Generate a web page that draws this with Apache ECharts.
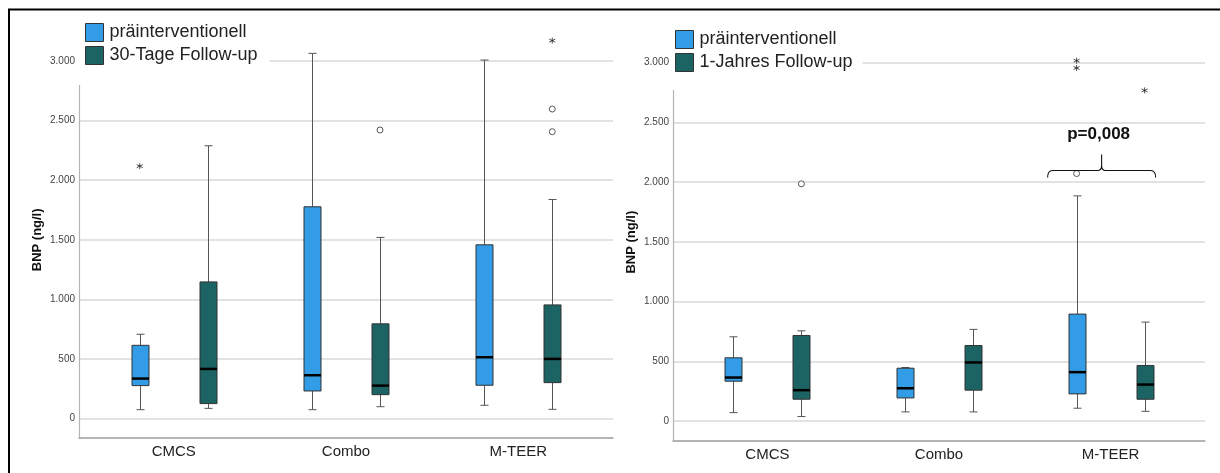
<!DOCTYPE html>
<html>
<head>
<meta charset="utf-8">
<script src="https://cdn.jsdelivr.net/npm/echarts@6/dist/echarts.min.js"></script>
<style>
  html, body { margin: 0; padding: 0; background: #fff; }
  #chart { width: 1220px; height: 473px; }
</style>
</head>
<body>
<div id="chart"></div>
<script>
// Groups on the x axis
const categories = ['CMCS', 'Combo', 'M-TEER'];
const preName = 'präinterventionell';
const day30Name = '30-Tage Follow-up';
const year1Name = '1-Jahres Follow-up';
const yAxisTitle = 'BNP (ng/l)';
const yTickLabels = ['0', '500', '1.000', '1.500', '2.000', '2.500', '3.000'];
const yTickStep = 500;

// Five-number summaries per group: [min, Q1, median, Q3, max] in ng/l
// Left panel: baseline vs 30-day follow-up
const preLeft = [[75, 277, 336, 615, 708], [75, 232, 364, 1777, 3064], [112, 280, 515, 1458, 3008]];
const day30 = [[86, 126, 417, 1147, 2289], [100, 201, 277, 795, 1520], [78, 302, 501, 954, 1838]];
// Right panel: baseline vs 1-year follow-up
const preRight = [[70, 333, 364, 529, 705], [76, 193, 274, 442, 448], [107, 227, 409, 895, 1885]];
const year1 = [[37, 182, 258, 716, 755], [76, 258, 490, 632, 767], [81, 182, 305, 465, 828]];

// Outliers (circles) and extreme values (asterisks): [group index, value]
const preLeftOutliers = [];
const preLeftExtremes = [[0, 2118]];
const day30Outliers = [[1, 2421], [2, 2597], [2, 2407]];
const day30Extremes = [[2, 3171]];
const preRightOutliers = [[2, 2072]];
const preRightExtremes = [[2, 3017], [2, 2956]];
const year1Outliers = [[0, 1986]];
const year1Extremes = [[2, 2768]];

// Significance annotation for M-TEER, 1-year panel
const pValueText = 'p=0,008';
const pValueGroup = 2;
const pBraceLevel = 2100;
const pTextLevel = 2400;

const BLUE = '#339ce6';
const TEAL = '#1c6363';
const FONT = 'Liberation Sans, Arial, sans-serif';
const BOX_W = 17;
const CAP_W = 8;
const SHIFT = 34;   // pixel offset of each box from its group centre
const ASTERISK = 'path://M5 0V10M0.67 2.5L9.33 7.5M0.67 7.5L9.33 2.5';

function boxRenderer(shift) {
  return function (params, api) {
    const pts = [1, 2, 3, 4, 5].map(d => api.coord([api.value(0), api.value(d)]));
    const cx = Math.round(pts[0][0] + shift) + 0.5;
    const yMin = pts[0][1], yQ1 = pts[1][1], yMed = pts[2][1], yQ3 = pts[3][1], yMax = pts[4][1];
    const fill = api.visual('color');
    const whisker = { stroke: '#555', lineWidth: 1 };
    return {
      type: 'group',
      children: [
        { type: 'line', shape: { x1: cx, y1: yMax, x2: cx, y2: yQ3 }, style: whisker },
        { type: 'line', shape: { x1: cx, y1: yQ1, x2: cx, y2: yMin }, style: whisker },
        { type: 'line', shape: { x1: cx - CAP_W / 2, y1: yMax, x2: cx + CAP_W / 2, y2: yMax }, style: whisker },
        { type: 'line', shape: { x1: cx - CAP_W / 2, y1: yMin, x2: cx + CAP_W / 2, y2: yMin }, style: whisker },
        { type: 'rect', shape: { x: cx - BOX_W / 2, y: yQ3, width: BOX_W, height: yQ1 - yQ3 },
          style: { fill: fill, stroke: '#333', lineWidth: 1 } },
        { type: 'line', shape: { x1: cx - BOX_W / 2, y1: yMed, x2: cx + BOX_W / 2, y2: yMed },
          style: { stroke: '#000', lineWidth: 2.5 } }
      ]
    };
  };
}

function boxSeries(name, rows, color, shift, axis) {
  return {
    type: 'custom', name: name, xAxisIndex: axis, yAxisIndex: axis,
    itemStyle: { color: color },
    encode: { x: 0, y: [1, 2, 3, 4, 5] },
    data: rows.map((r, i) => [i].concat(r)),
    renderItem: boxRenderer(shift),
    silent: true, z: 3
  };
}

function pointSeries(points, shift, axis, extreme) {
  return {
    type: 'scatter', name: extreme ? 'extreme' : 'outlier', xAxisIndex: axis, yAxisIndex: axis,
    data: points, clip: false, silent: true, z: 4,
    symbol: extreme ? ASTERISK : 'circle',
    symbolSize: extreme ? 6 : 6,
    symbolOffset: [shift, 0],
    itemStyle: extreme
      ? { color: 'transparent', borderColor: '#222', borderWidth: 1 }
      : { color: '#fff', borderColor: '#333', borderWidth: 1 }
  };
}

function xAxisFor(grid) {
  return {
    type: 'value', gridIndex: grid, min: -0.55, max: 2.55,
    minInterval: 1, maxInterval: 1,
    splitLine: { show: false }, axisTick: { show: false },
    axisLine: { onZero: false, lineStyle: { color: '#a5a5a5', width: 1.5 } },
    axisLabel: {
      margin: 7, fontSize: 15, color: '#222', fontFamily: FONT,
      showMinLabel: false, showMaxLabel: false,
      formatter: v => (Number.isInteger(v) && categories[v] !== undefined) ? categories[v] : ''
    }
  };
}

function yAxisFor(grid, min) {
  return {
    type: 'value', gridIndex: grid, min: min, max: 3000,
    minInterval: yTickStep, maxInterval: yTickStep, splitNumber: 6,
    name: yAxisTitle, nameLocation: 'middle', nameGap: 35,
    nameTextStyle: { fontWeight: 'bold', fontSize: 13, color: '#111', fontFamily: FONT, padding: [0, 0, 0, 19] },
    axisLine: { show: true, onZero: false, lineStyle: { color: '#b5b5b5', width: 1.2 } },
    axisTick: { show: false },
    splitLine: { lineStyle: { color: '#d9d9d9', width: 1.5 } },
    axisLabel: {
      margin: 4, fontSize: 10, color: '#444', fontFamily: FONT,
      showMinLabel: false,
      formatter: v => (v >= 0 && v % yTickStep === 0) ? yTickLabels[v / yTickStep] : ''
    }
  };
}

function legendFor(left, top, names, padding) {
  return {
    orient: 'vertical', left: left, top: top, data: names,
    itemWidth: 18, itemHeight: 18, itemGap: 4, icon: 'rect',
    padding: padding, backgroundColor: '#fff',
    itemStyle: { borderColor: '#333', borderWidth: 1 },
    textStyle: { fontSize: 18, color: '#222', fontFamily: FONT, padding: [0, 0, 0, 1] },
    selectedMode: false
  };
}

const pValueSeries = {
  type: 'custom', xAxisIndex: 1, yAxisIndex: 1, silent: true, z: 5,
  data: [[pValueGroup, pBraceLevel, pTextLevel]],
  encode: { x: 0, y: [1, 2] },
  renderItem: function (params, api) {
    const base = api.coord([api.value(0), api.value(1)]);
    const label = api.coord([api.value(0), api.value(2)]);
    const cx = base[0], y = Math.round(base[1]) + 0.5;
    const l = cx - 63, r = cx + 45, m = cx - 9;
    const path = 'M' + l + ' ' + (y + 7) + ' Q' + l + ' ' + y + ' ' + (l + 5) + ' ' + y +
      ' L' + (m - 4) + ' ' + y + ' Q' + m + ' ' + y + ' ' + m + ' ' + (y - 5) +
      ' L' + m + ' ' + (y - 16) + ' M' + m + ' ' + (y - 5) + ' Q' + m + ' ' + y + ' ' + (m + 4) + ' ' + y +
      ' L' + (r - 5) + ' ' + y + ' Q' + r + ' ' + y + ' ' + r + ' ' + (y + 7);
    return {
      type: 'group',
      children: [
        { type: 'path', shape: { pathData: path }, style: { fill: 'none', stroke: '#111', lineWidth: 1.1 } },
        { type: 'text', x: cx - 12, y: label[1],
          style: { text: pValueText, align: 'center', verticalAlign: 'middle',
                   fontSize: 17, fontWeight: 'bold', fontFamily: FONT, fill: '#111' } }
      ]
    };
  }
};

const chart = echarts.init(document.getElementById('chart'), null, { renderer: 'canvas' });
chart.setOption({
  animation: false,
  backgroundColor: '#fff',
  textStyle: { fontFamily: FONT },
  grid: [
    { left: 79, right: 607, top: 61, bottom: 35.3 },
    { left: 673, right: 15, top: 62.7, bottom: 32.3 }
  ],
  xAxis: [xAxisFor(0), xAxisFor(1)],
  yAxis: [yAxisFor(0, -160), yAxisFor(1, -165)],
  legend: [
    legendFor(77, 20, [preName, day30Name], [3, 12, 20, 8]),
    legendFor(669, 27, [preName, year1Name], [3, 10, 18, 6])
  ],
  graphic: [
    { type: 'rect', shape: { x: 9, y: 9.5, width: 1400, height: 700 },
      style: { fill: 'none', stroke: '#000', lineWidth: 2 }, z: 100 }
  ],
  series: [
    boxSeries(preName, preLeft, BLUE, -SHIFT, 0),
    boxSeries(day30Name, day30, TEAL, SHIFT, 0),
    pointSeries(preLeftOutliers, -SHIFT, 0, false),
    pointSeries(preLeftExtremes, -SHIFT, 0, true),
    pointSeries(day30Outliers, SHIFT, 0, false),
    pointSeries(day30Extremes, SHIFT, 0, true),
    boxSeries(preName, preRight, BLUE, -SHIFT, 1),
    boxSeries(year1Name, year1, TEAL, SHIFT, 1),
    pointSeries(preRightOutliers, -SHIFT, 1, false),
    pointSeries(preRightExtremes, -SHIFT, 1, true),
    pointSeries(year1Outliers, SHIFT, 1, false),
    pointSeries(year1Extremes, SHIFT, 1, true),
    pValueSeries
  ]
});
</script>
</body>
</html>
